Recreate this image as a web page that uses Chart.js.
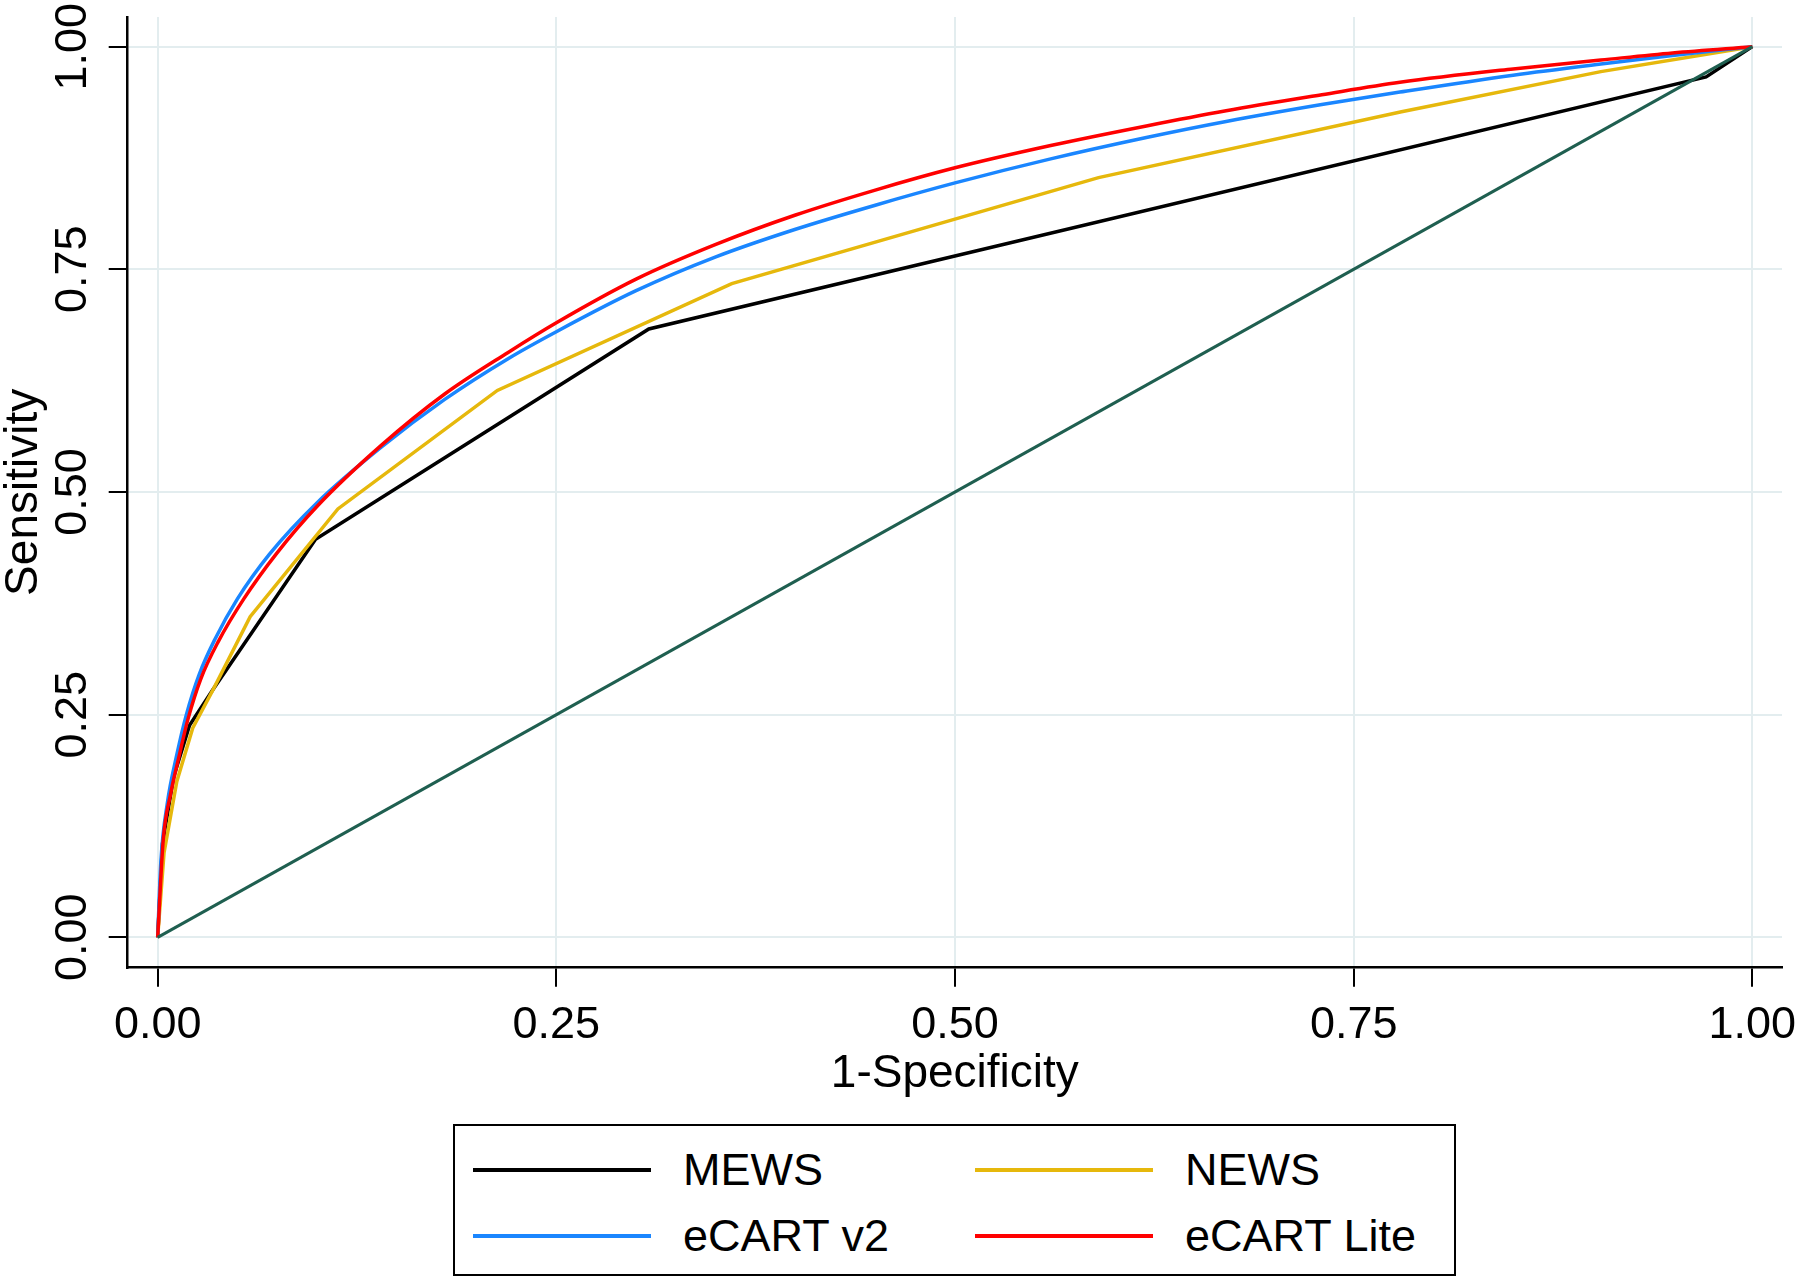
<!DOCTYPE html>
<html>
<head>
<meta charset="utf-8">
<script src="https://cdn.jsdelivr.net/npm/chart.js@4.4.1/dist/chart.umd.min.js"></script>
<style>
  html, body { margin: 0; padding: 0; background: #ffffff; }
  #wrap { position: relative; width: 1800px; height: 1282px; overflow: hidden; background:#fff; }
  #c { position: absolute; left: 0; top: 0; }
  #legend {
    position: absolute; left: 453px; top: 1124px; width: 1003px; height: 152px;
    box-sizing: border-box; border: 2.5px solid #000; background: #fff;
    font-family: "Liberation Sans", Arial, sans-serif; font-size: 45px; color: #000;
  }
  .item { position: absolute; height: 60px; }
  .swatch { position: absolute; height: 4px; width: 178px; }
  .lab { position: absolute; white-space: nowrap; line-height: 60px; top: 0; }
</style>
</head>
<body>
<div id="wrap">
  <canvas id="c" width="1800" height="1282"></canvas>
  <div id="legend"></div>
</div>
<script>
// ---- data ----
const seriesNames = ["MEWS", "NEWS", "eCART v2", "eCART Lite"];
const seriesColors = ["#000000", "#e6b80c", "#1a86ff", "#ff0000"];
const refColor = "#1f5f50";

const mewsX = [0, 0.003, 0.010, 0.020, 0.035, 0.099, 0.308, 0.971, 1];
const mewsY = [0, 0.105, 0.180, 0.238, 0.279, 0.447, 0.683, 0.966, 1];

const newsX = [0, 0.004, 0.012, 0.022, 0.035, 0.058, 0.113, 0.213, 0.360, 0.590, 0.780, 0.905, 1];
const newsY = [0, 0.095, 0.175, 0.235, 0.279, 0.360, 0.481, 0.614, 0.734, 0.853, 0.927, 0.972, 1];

const ecartX = [0, 0.002, 0.006, 0.012, 0.018, 0.026, 0.036, 0.050, 0.070, 0.10, 0.14, 0.18, 0.22, 0.25, 0.30, 0.35, 0.40, 0.45, 0.50, 0.56, 0.62, 0.67, 0.73, 0.779, 0.85, 0.905, 0.95, 1];
const ecartY = [0, 0.085, 0.150, 0.205, 0.250, 0.295, 0.335, 0.380, 0.430, 0.488, 0.550, 0.604, 0.650, 0.680, 0.726, 0.764, 0.795, 0.822, 0.847, 0.874, 0.898, 0.916, 0.935, 0.949, 0.968, 0.9805, 0.990, 1];

const liteX = [0, 0.0035, 0.008, 0.013, 0.019, 0.027, 0.038, 0.054, 0.075, 0.10, 0.14, 0.18, 0.22, 0.25, 0.30, 0.35, 0.40, 0.45, 0.50, 0.56, 0.62, 0.67, 0.73, 0.779, 0.85, 0.905, 0.95, 1];
const liteY = [0, 0.110, 0.160, 0.200, 0.245, 0.290, 0.332, 0.380, 0.432, 0.484, 0.552, 0.610, 0.657, 0.690, 0.739, 0.778, 0.811, 0.839, 0.864, 0.889, 0.911, 0.928, 0.946, 0.960, 0.975, 0.985, 0.993, 1];

const refX = [0, 1];
const refY = [0, 1];

const tickVals = [0, 0.25, 0.5, 0.75, 1];
const tickLabels = ["0.00", "0.25", "0.50", "0.75", "1.00"];
const xTitle = "1-Specificity";
const yTitle = "Sensitivity";

// ---- build ----
function pts(xs, ys) { return xs.map((x, i) => ({ x: x, y: ys[i] })); }
const FONT = "'Liberation Sans', Arial, sans-serif";

const seriesData = [pts(mewsX, mewsY), pts(newsX, newsY), pts(ecartX, ecartY), pts(liteX, liteY)];
const smooth = [false, false, true, true];
const datasets = seriesData.map((d, i) => ({
  label: seriesNames[i],
  data: d,
  borderColor: seriesColors[i],
  borderWidth: 3.5,
  pointRadius: 0,
  fill: false,
  tension: 0,
  cubicInterpolationMode: smooth[i] ? 'monotone' : 'default',
  order: 5 - i
}));
datasets.push({
  label: "reference",
  data: pts(refX, refY),
  borderColor: refColor,
  borderWidth: 3,
  pointRadius: 0,
  fill: false,
  tension: 0,
  order: 0
});

const gridColor = "#e3edef";
function setTicks(scale) { scale.ticks = tickVals.map(v => ({ value: v })); }
function fmt(v) { const i = tickVals.indexOf(v); return i >= 0 ? tickLabels[i] : ""; }
function noPad(s) { s.paddingLeft = 0; s.paddingRight = 0; s.paddingTop = 0; s.paddingBottom = 0; }

new Chart(document.getElementById('c'), {
  type: 'line',
  data: { datasets: datasets },
  options: {
    responsive: false,
    animation: false,
    devicePixelRatio: 1,
    layout: { padding: { left: 0, top: 17, right: 18, bottom: 184.3 } },
    plugins: { legend: { display: false }, tooltip: { enabled: false } },
    scales: {
      x: {
        type: 'linear', min: -0.0188, max: 1.0186,
        afterBuildTicks: setTicks,
        afterFit: (s) => { s.height = 130; noPad(s); },
        grid: { color: gridColor, lineWidth: 2, tickColor: "#000", tickLength: 19, tickWidth: 2 },
        border: { display: true, color: "#000", width: 2.5 },
        ticks: { callback: fmt, font: { family: FONT, size: 45 }, color: "#000", padding: 12, maxRotation: 0, minRotation: 0, autoSkip: false },
        title: { display: true, text: xTitle, font: { family: FONT, size: 46 }, color: "#000", padding: { top: 0, bottom: -4 } }
      },
      y: {
        type: 'linear', min: -0.0341, max: 1.0333,
        afterBuildTicks: setTicks,
        afterFit: (s) => { s.width = 127.7; noPad(s); },
        grid: { color: gridColor, lineWidth: 2, tickColor: "#000", tickLength: 19, tickWidth: 2 },
        border: { display: true, color: "#000", width: 2.5 },
        ticks: { callback: fmt, font: { family: FONT, size: 45 }, color: "#000", padding: -9, minRotation: 90, maxRotation: 90, crossAlign: 'center', autoSkip: false },
        title: { display: true, text: yTitle, font: { family: FONT, size: 46 }, color: "#000", padding: { top: -3.6, bottom: 0 } }
      }
    }
  }
});

// ---- HTML legend from the same arrays ----
const legend = document.getElementById('legend');
const cols = [{ sw: 18, tx: 228 }, { sw: 520, tx: 730 }];
const rows = [14, 80];
seriesNames.forEach((name, i) => {
  const c = cols[i % 2], r = rows[Math.floor(i / 2)];
  const item = document.createElement('div');
  item.className = 'item';
  item.style.top = r + 'px';
  item.style.left = '0px';
  const sw = document.createElement('div');
  sw.className = 'swatch';
  sw.style.left = c.sw + 'px';
  sw.style.top = '28px';
  sw.style.background = seriesColors[i];
  const lab = document.createElement('span');
  lab.className = 'lab';
  lab.style.left = c.tx + 'px';
  lab.textContent = name;
  item.appendChild(sw);
  item.appendChild(lab);
  legend.appendChild(item);
});
</script>
</body>
</html>
